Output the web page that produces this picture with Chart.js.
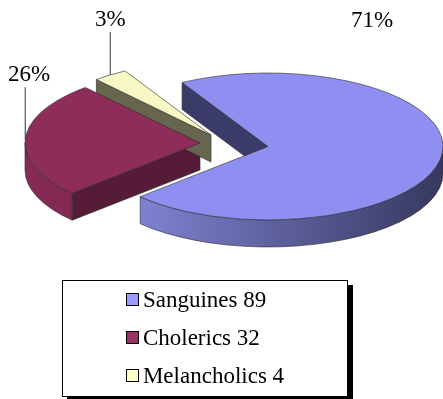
<!DOCTYPE html>
<html>
<head>
<meta charset="utf-8">
<script src="https://cdn.jsdelivr.net/npm/chart.js@4.4.1/dist/chart.umd.min.js"></script>
<style>
body{margin:0;background:#fff;}
#wrap{position:relative;width:443px;height:399px;overflow:hidden;}
#legend{position:absolute;left:62px;top:280px;width:284px;height:115px;border:1px solid #000;box-shadow:5px 5px 0 #000;background:#fff;
  font-family:"Liberation Serif","Times New Roman",serif;font-size:23px;color:#000;text-align:center;}
#legend ul{display:inline-block;text-align:left;margin:0;padding:0;list-style:none;}
#legend li{height:38px;line-height:38px;white-space:nowrap;}
#legend .box{display:inline-block;width:11px;height:11px;border:1px solid #000;margin-right:4px;vertical-align:middle;position:relative;top:-2px;}
</style>
</head>
<body>
<div id="wrap">
  <canvas id="myChart" width="443" height="399"></canvas>
  <div id="legend"></div>
</div>
<script>
// values
var categories = ['Sanguines', 'Cholerics', 'Melancholics'];
var counts = [89, 32, 4];
var colors = ['#9999ff', '#993366', '#ffffcc'];

// fake 3d pie: squash the arcs chart.js computed and extrude them
var pie3d = {
  id: 'pie3d',
  beforeDatasetsDraw(chart, args, opts) {
    var ctx = chart.ctx;
    var k = opts.tilt, D = opts.depth;
    var total = counts.reduce((a, b) => a + b, 0);
    var parts = chart.getDatasetMeta(0).data.map((arc, i) => {
      var p = arc.getProps(['x', 'y', 'startAngle', 'endAngle', 'outerRadius']);
      var ex = opts.explode[i] || [0, 0];
      return {cx: p.x + ex[0], cy: p.y + ex[1], r: p.outerRadius, s: p.startAngle, e: p.endAngle, i: i};
    });
    function pt(P, a, dy) {
      return [P.cx + P.r * Math.cos(a), P.cy + k * P.r * Math.sin(a) + (dy || 0)];
    }
    ctx.save();
    ctx.lineWidth = 0.6;
    ctx.strokeStyle = '#2a2a2a';
    ctx.lineJoin = 'round';

    // cut faces that look at us
    parts.forEach(P => {
      [[P.s, Math.cos(P.s) < 0], [P.e, Math.cos(P.e) > 0]].forEach(f => {
        if (!f[1]) return;
        var q = pt(P, f[0]);
        ctx.beginPath();
        ctx.moveTo(P.cx, P.cy);
        ctx.lineTo(q[0], q[1]);
        ctx.lineTo(q[0], q[1] + D);
        ctx.lineTo(P.cx, P.cy + D);
        ctx.closePath();
        ctx.fillStyle = opts.cutColors[P.i];
        ctx.fill();
        ctx.stroke();
      });
    });

    // front outer walls
    parts.forEach(P => {
      for (var m = -2 * Math.PI; m <= 2 * Math.PI; m += 2 * Math.PI) {
        var a1 = Math.max(P.s, m), a2 = Math.min(P.e, m + Math.PI);
        if (a2 <= a1) continue;
        var g = ctx.createLinearGradient(P.cx - P.r, 0, P.cx + P.r, 0);
        g.addColorStop(0, opts.wallColors[P.i][0]);
        g.addColorStop(1, opts.wallColors[P.i][1]);
        ctx.beginPath();
        ctx.ellipse(P.cx, P.cy, P.r, k * P.r, 0, a1, a2, false);
        ctx.ellipse(P.cx, P.cy + D, P.r, k * P.r, 0, a2, a1, true);
        ctx.closePath();
        ctx.fillStyle = g;
        ctx.fill();
        ctx.stroke();
      }
    });

    // top faces
    parts.forEach(P => {
      ctx.beginPath();
      ctx.moveTo(P.cx, P.cy);
      ctx.ellipse(P.cx, P.cy, P.r, k * P.r, 0, P.s, P.e, false);
      ctx.closePath();
      ctx.fillStyle = opts.topColors[P.i];
      ctx.fill();
      ctx.stroke();
    });

    // percent labels
    ctx.font = '23px "Liberation Serif", "Times New Roman", serif';
    ctx.fillStyle = '#000';
    ctx.textAlign = 'center';
    ctx.textBaseline = 'alphabetic';
    parts.forEach(P => {
      var txt = Math.round(counts[P.i] / total * 100) + '%';
      var L = opts.labels[P.i];
      if (L.x !== undefined) {
        ctx.fillText(txt, L.x, L.y);
        return;
      }
      var q = pt(P, (P.s + P.e) / 2);
      var top = q[1] - L.lift;
      ctx.beginPath();
      ctx.moveTo(q[0], q[1]);
      ctx.lineTo(q[0], top);
      ctx.strokeStyle = '#333';
      ctx.lineWidth = 1;
      ctx.stroke();
      var w = ctx.measureText(txt).width;
      var x = Math.max(q[0], 8 + w / 2);
      ctx.fillText(txt, x, top - 6);
    });
    ctx.restore();
    return false;
  }
};

var myChart = new Chart(document.getElementById('myChart'), {
  type: 'pie',
  data: {
    labels: categories,
    datasets: [{
      data: counts,
      backgroundColor: colors,
      borderWidth: 0
    }]
  },
  options: {
    responsive: false,
    animation: false,
    devicePixelRatio: 1,
    rotation: -29.4,
    radius: 175,
    layout: {padding: {left: 93, bottom: 106}},
    plugins: {
      legend: {display: false},
      tooltip: {enabled: false},
      pie3d: {
        tilt: 0.42,
        depth: 27,
        explode: [[0, 0], [-68, -3.5], [-57, -11.5]],
        topColors: ['#8f8ff2', '#8e2d5a', '#f8f8c6'],
        cutColors: ['#3a3b68', '#561b36', '#66664f'],
        wallColors: [['#8a8de2', '#36385f'], ['#862a56', '#6a2143'], ['#c8c8a0', '#9a9a78']],
        labels: [{x: 372, y: 27}, {lift: 52}, {lift: 43}]
      }
    }
  },
  plugins: [pie3d]
});

// legend box below the pie
var ul = document.createElement('ul');
myChart.data.labels.forEach((name, i) => {
  var li = document.createElement('li');
  var box = document.createElement('span');
  box.className = 'box';
  box.style.background = myChart.data.datasets[0].backgroundColor[i];
  li.appendChild(box);
  li.appendChild(document.createTextNode(name + ' ' + myChart.data.datasets[0].data[i]));
  ul.appendChild(li);
});
document.getElementById('legend').appendChild(ul);
</script>
</body>
</html>
